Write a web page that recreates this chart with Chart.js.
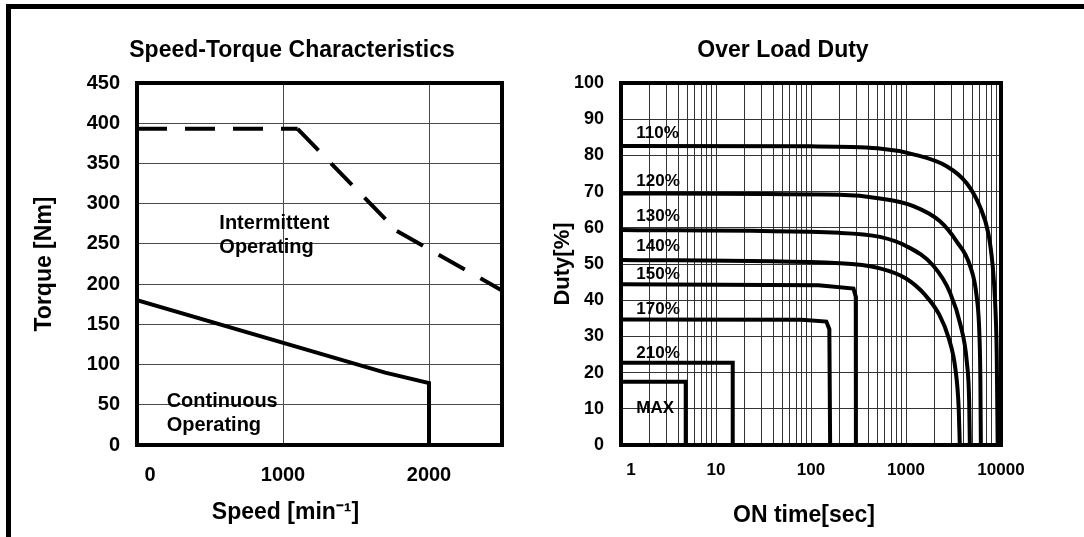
<!DOCTYPE html>
<html><head><meta charset="utf-8">
<script src="https://cdn.jsdelivr.net/npm/chart.js@4.4.1/dist/chart.umd.min.js"></script>
<style>
html,body{margin:0;padding:0;background:#fff;width:1084px;height:537px;overflow:hidden;}
#frame{position:absolute;left:6px;top:4px;width:1100px;height:600px;border-top:5px solid #000;border-left:5px solid #000;}
canvas{position:absolute;top:0;}
#c1{left:20px;}
#c2{left:535px;}
</style></head><body>
<div id="frame"></div>
<canvas id="c1" width="544" height="537"></canvas>
<canvas id="c2" width="496" height="537"></canvas>
<script>
// ---- Speed-Torque data ----
const speedTickValues = [0, 1000, 2000];
const speedTickLabels = ['0', '1000', '2000'];
const intermittentSpeed = [0, 1100, 1780, 2500];
const intermittentTorque = [393, 393, 266, 192];
const continuousSpeed = [0, 1700, 2000, 2000];
const continuousTorque = [180, 90, 77, 0];

// ---- Over Load Duty data ----
const onTimeTickValues = [1, 10, 100, 1000, 10000];
const onTimeTickLabels = ['1', '10', '100', '1000', '10000'];
const time110 = [1, 100, 500, 1195, 2680, 4355, 6010, 7345, 8185, 8650, 9016, 9226];
const duty110 = [82.6, 82.5, 82.0, 80.3, 77.0, 72.3, 65.8, 58.5, 49.3, 40, 25, 0];
const time120 = [1, 200, 532, 1194, 2280, 3420, 4721, 5546, 5916, 6067, 6138];
const duty120 = [69.5, 69.1, 68.1, 66.0, 61.8, 56.2, 49.5, 41, 31, 18, 0];
const time130 = [1, 202, 532, 1000, 1941, 2917, 3758, 4365, 4624, 4699];
const duty130 = [59.4, 58.6, 57.5, 55.0, 49.5, 42, 33, 23, 12, 0];
const time140 = [1, 202, 532, 1000, 1585, 2239, 2818, 3311, 3589, 3681];
const duty140 = [51.1, 50.2, 48.8, 46, 41.5, 36, 29.5, 21, 10, 0];
const time150 = [1, 120, 280, 296, 297];
const duty150 = [44.4, 44.1, 43.2, 41, 0];
const time170 = [1, 80, 145, 156, 159];
const duty170 = [34.7, 34.6, 34.1, 32, 0];
const time210 = [1, 15, 15];
const duty210 = [22.7, 22.7, 0];
const timeMax = [1, 4.8, 4.8];
const dutyMax = [17.5, 17.5, 0];
const loadLabels = ['110%', '120%', '130%', '140%', '150%', '170%', '210%', 'MAX'];

const FONT = "'Liberation Sans', Arial, sans-serif";
Chart.defaults.font.family = FONT;
Chart.defaults.font.weight = 'bold';
Chart.defaults.font.size = 19;
Chart.defaults.color = '#000';

function pts(xs, ys) { return xs.map((x, i) => ({ x: x, y: ys[i] })); }

function overlay(cfg) {
  return {
    id: 'overlayText',
    afterDatasetsDraw(chart) {
      const ctx = chart.ctx, a = chart.chartArea;
      const xs = chart.scales.x, ys = chart.scales.y;
      ctx.save();
      ctx.strokeStyle = '#000';
      ctx.lineWidth = 4;
      ctx.strokeRect(a.left, a.top, a.right - a.left, a.bottom - a.top);
      ctx.fillStyle = '#000';
      ctx.textBaseline = 'middle';
      ctx.textAlign = 'center';
      ctx.font = 'bold ' + cfg.tickSize + 'px ' + FONT;
      cfg.tickValues.forEach((v, i) => {
        const x = xs.getPixelForValue(v) + (i === 0 ? cfg.firstTickShift : 0);
        ctx.fillText(cfg.tickLabels[i], x, a.bottom + cfg.tickGap);
      });
      ctx.font = 'bold ' + cfg.titleSize + 'px ' + FONT;
      ctx.fillText(cfg.xTitle, (a.left + a.right) / 2 + cfg.xTitleShift, a.bottom + cfg.xTitleGap);
      ctx.textAlign = 'left';
      ctx.font = 'bold ' + cfg.noteSize + 'px ' + FONT;
      cfg.notes.forEach(n => ctx.fillText(n.text, xs.getPixelForValue(n.x), ys.getPixelForValue(n.y)));
      ctx.restore();
    }
  };
}

const lineBase = { showLine: true, borderColor: '#000', backgroundColor: '#000', borderWidth: 4, pointRadius: 0, fill: false };

// ---------- Chart 1 ----------
new Chart(document.getElementById('c1'), {
  type: 'scatter',
  data: {
    datasets: [
      Object.assign({}, lineBase, {
        label: 'Intermittent Operating',
        data: pts(intermittentSpeed, intermittentTorque),
        borderDash: [30, 18],
        segment: { borderDashOffset: c => c.p0DataIndex * 48 }
      }),
      Object.assign({}, lineBase, {
        label: 'Continuous Operating',
        data: pts(continuousSpeed, continuousTorque)
      })
    ]
  },
  options: {
    responsive: false, animation: false, events: [],
    layout: { padding: 0 },
    plugins: {
      legend: { display: false }, tooltip: { enabled: false },
      title: { display: true, text: 'Speed-Torque Characteristics', color: '#000',
        font: { size: 23, weight: 'bold' }, padding: { top: 36.7, bottom: 18.7 } }
    },
    scales: {
      x: {
        type: 'linear', min: 0, max: 2500,
        afterBuildTicks: s => { s.ticks = speedTickValues.map(v => ({ value: v })); },
        afterFit: s => { s.height = 92; },
        ticks: { display: false, autoSkip: false },
        grid: { color: '#4a4a4a', lineWidth: 1, drawTicks: false },
        border: { display: false }
      },
      y: {
        type: 'linear', position: 'left', min: 0, max: 450,
        ticks: { stepSize: 50, padding: 17, autoSkip: false, font: { size: 20, weight: 'bold' } },
        grid: { color: '#4a4a4a', lineWidth: 1, drawTicks: false },
        border: { display: false },
        title: { display: true, text: 'Torque [Nm]', font: { size: 23, weight: 'bold' }, padding: { top: 11, bottom: 0 } },
        afterFit: s => { s.width = 117; }
      },
      yR: {
        type: 'linear', position: 'right', display: true,
        grid: { display: false }, ticks: { display: false }, border: { display: false },
        afterFit: s => { s.width = 62; }
      }
    }
  },
  plugins: [overlay({
    tickValues: speedTickValues, tickLabels: speedTickLabels, tickSize: 20, tickGap: 30, firstTickShift: 13,
    xTitle: 'Speed [min\u207B\u00B9]', titleSize: 23, xTitleShift: -34, xTitleGap: 68,
    noteSize: 20,
    notes: [
      { text: 'Intermittent', x: 564, y: 275 },
      { text: 'Operating', x: 564, y: 245 },
      { text: 'Continuous', x: 203, y: 54 },
      { text: 'Operating', x: 203, y: 24 }
    ]
  })]
});

// ---------- Chart 2 ----------
const logGrid = [];
for (let p = 1; p <= 1000; p *= 10) { for (let m = 1; m <= 9; m++) logGrid.push(m * p); }
logGrid.push(10000);

const smooth = { cubicInterpolationMode: 'monotone' };
new Chart(document.getElementById('c2'), {
  type: 'scatter',
  data: {
    datasets: [
      Object.assign({}, lineBase, smooth, { label: loadLabels[0], data: pts(time110, duty110) }),
      Object.assign({}, lineBase, smooth, { label: loadLabels[1], data: pts(time120, duty120) }),
      Object.assign({}, lineBase, smooth, { label: loadLabels[2], data: pts(time130, duty130) }),
      Object.assign({}, lineBase, smooth, { label: loadLabels[3], data: pts(time140, duty140) }),
      Object.assign({}, lineBase, { label: loadLabels[4], data: pts(time150, duty150) }),
      Object.assign({}, lineBase, { label: loadLabels[5], data: pts(time170, duty170) }),
      Object.assign({}, lineBase, { label: loadLabels[6], data: pts(time210, duty210) }),
      Object.assign({}, lineBase, { label: loadLabels[7], data: pts(timeMax, dutyMax) })
    ]
  },
  options: {
    responsive: false, animation: false, events: [],
    layout: { padding: 0 },
    plugins: {
      legend: { display: false }, tooltip: { enabled: false },
      title: { display: true, text: 'Over Load Duty', color: '#000',
        font: { size: 23, weight: 'bold' }, padding: { top: 36.7, bottom: 18.7 } }
    },
    scales: {
      x: {
        type: 'logarithmic', min: 1, max: 10000,
        afterBuildTicks: s => { s.ticks = logGrid.map(v => ({ value: v })); },
        afterFit: s => { s.height = 92; },
        ticks: { display: false, autoSkip: false },
        grid: { color: '#333', lineWidth: 1, drawTicks: false },
        border: { display: false }
      },
      y: {
        type: 'linear', position: 'left', min: 0, max: 100,
        ticks: { stepSize: 10, padding: 17, autoSkip: false, font: { size: 18, weight: 'bold' } },
        grid: { color: '#333', lineWidth: 1, drawTicks: false },
        border: { display: false },
        title: { display: true, text: 'Duty[%]', font: { size: 22, weight: 'bold' }, padding: { top: 15, bottom: 0 } },
        afterFit: s => { s.width = 86; }
      },
      yR: {
        type: 'linear', position: 'right', display: true,
        grid: { display: false }, ticks: { display: false }, border: { display: false },
        afterFit: s => { s.width = 30; }
      }
    }
  },
  plugins: [overlay({
    tickValues: onTimeTickValues, tickLabels: onTimeTickLabels, tickSize: 17, tickGap: 25, firstTickShift: 10,
    xTitle: 'ON time[sec]', titleSize: 23, xTitleShift: -7, xTitleGap: 71,
    noteSize: 17,
    notes: [
      { text: loadLabels[0], x: 1.45, y: 86.1 },
      { text: loadLabels[1], x: 1.45, y: 72.9 },
      { text: loadLabels[2], x: 1.45, y: 63.1 },
      { text: loadLabels[3], x: 1.45, y: 54.8 },
      { text: loadLabels[4], x: 1.45, y: 47.2 },
      { text: loadLabels[5], x: 1.45, y: 37.5 },
      { text: loadLabels[6], x: 1.45, y: 25.3 },
      { text: loadLabels[7], x: 1.45, y: 10.1 }
    ]
  })]
});
</script>
</body></html>
